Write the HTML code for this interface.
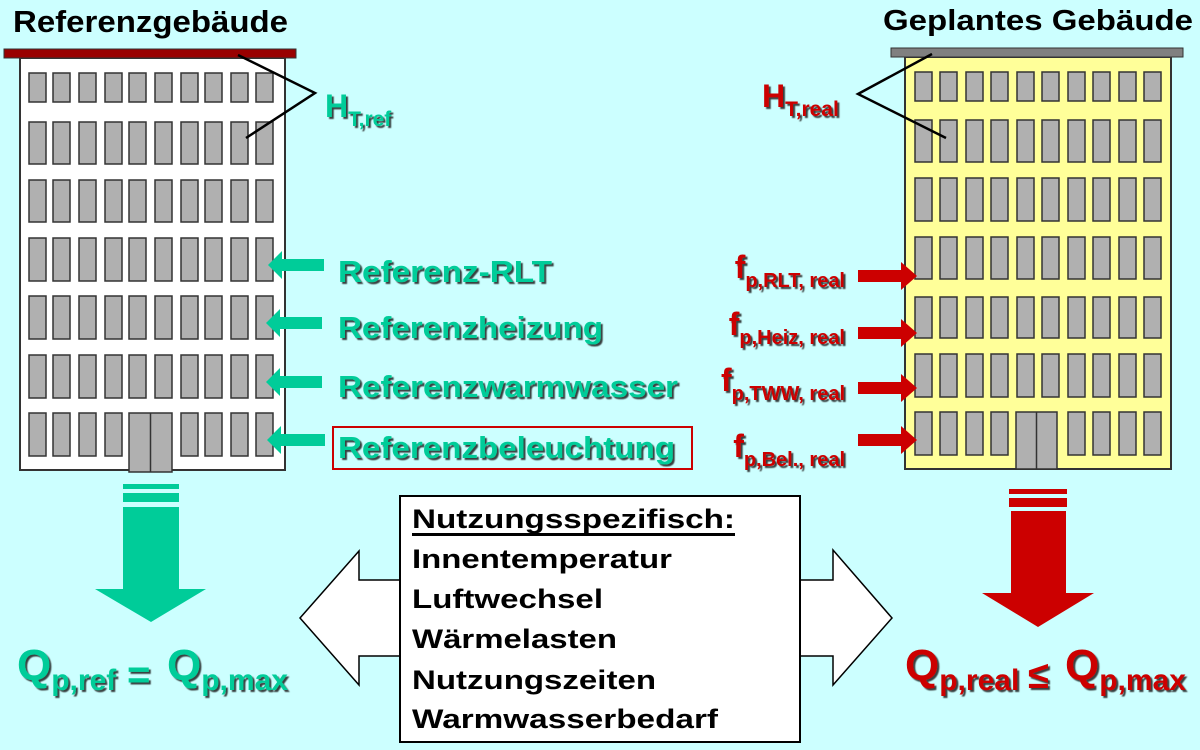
<!DOCTYPE html>
<html><head><meta charset="utf-8"><style>
html,body{margin:0;padding:0;background:#ccffff;}
svg{display:block;font-family:"Liberation Sans",Arial,sans-serif;font-weight:bold;}
</style></head><body>
<svg width="1200" height="750" viewBox="0 0 1200 750" xmlns="http://www.w3.org/2000/svg">
<defs>
<filter id="sh" x="-5%" y="-20%" width="110%" height="140%"><feDropShadow dx="2" dy="2" stdDeviation="0.4" flood-color="#222" flood-opacity="0.85"/></filter>
</defs>
<rect width="1200" height="750" fill="#ccffff"/>

<!-- Titles -->
<text x="13" y="32" font-size="31" fill="#000" textLength="275" lengthAdjust="spacingAndGlyphs">Referenzgebäude</text>
<text x="883" y="30" font-size="29" fill="#000" textLength="310" lengthAdjust="spacingAndGlyphs">Geplantes Gebäude</text>

<!-- Left building -->
<rect x="20" y="58" width="265" height="412" fill="#fff" stroke="#333" stroke-width="2"/>
<rect x="4" y="49" width="292" height="9" fill="#990000" stroke="#333" stroke-width="1"/>

<!-- Right building -->
<rect x="905" y="57" width="266" height="412" fill="#ffff99" stroke="#333" stroke-width="2"/>
<rect x="891" y="48" width="292" height="9" fill="#808080" stroke="#333" stroke-width="1"/>

<g id="lw" fill="#b0b0b0" stroke="#333" stroke-width="1.5"></g>
<g id="rw" fill="#b0b0b0" stroke="#333" stroke-width="1.5"></g>

<rect x="129" y="413" width="43" height="59" fill="#b0b0b0" stroke="#333" stroke-width="1.5"/>
<line x1="150.5" y1="413" x2="150.5" y2="472" stroke="#333" stroke-width="1.5"/>
<rect x="1016" y="412" width="41" height="57" fill="#b0b0b0" stroke="#333" stroke-width="1.5"/>
<line x1="1036.5" y1="412" x2="1036.5" y2="469" stroke="#333" stroke-width="1.5"/>

<!-- H lines -->
<polyline points="238,55 315,93 246,138" fill="none" stroke="#000" stroke-width="2.5"/>
<polyline points="932,54 858,94 946,138" fill="none" stroke="#000" stroke-width="2.5"/>
<g filter="url(#sh)">
<text x="325" y="117" font-size="32" fill="#00cc99">H<tspan font-size="21" dy="9">T,ref</tspan></text>
<text x="762" y="107" font-size="32" fill="#cc0000">H<tspan font-size="21" dy="9">T,real</tspan></text>
</g>

<!-- Green arrows -->
<g fill="#00cc99">
<polygon points="268,265 282,251 282,259 324,259 324,271 282,271 282,279"/>
<polygon points="266,323 280,309 280,317 322,317 322,329 280,329 280,337"/>
<polygon points="266,382 280,368 280,376 322,376 322,388 280,388 280,396"/>
<polygon points="267,440 281,426 281,434 325,434 325,446 281,446 281,454"/>
</g>
<g filter="url(#sh)" fill="#00cc99" font-size="31">
<text x="338" y="282" textLength="214" lengthAdjust="spacingAndGlyphs">Referenz-RLT</text>
<text x="338" y="338" textLength="265" lengthAdjust="spacingAndGlyphs">Referenzheizung</text>
<text x="338" y="397" textLength="340" lengthAdjust="spacingAndGlyphs">Referenzwarmwasser</text>
<text x="338" y="458" textLength="337" lengthAdjust="spacingAndGlyphs">Referenzbeleuchtung</text>
</g>
<rect x="333" y="427" width="359" height="42" fill="none" stroke="#cc0000" stroke-width="2"/>

<!-- Red arrows -->
<g fill="#cc0000">
<polygon points="917,276 901,262 901,270 858,270 858,282 901,282 901,290"/>
<polygon points="917,333 901,319 901,327 858,327 858,339 901,339 901,347"/>
<polygon points="917,388 901,374 901,382 858,382 858,394 901,394 901,402"/>
<polygon points="917,440 901,426 901,434 858,434 858,446 901,446 901,454"/>
</g>
<g filter="url(#sh)" fill="#cc0000" font-size="32" text-anchor="end">
<text x="845" y="278">f<tspan font-size="20" dy="9">p,RLT, real</tspan></text>
<text x="845" y="335">f<tspan font-size="20" dy="9">p,Heiz, real</tspan></text>
<text x="845" y="391">f<tspan font-size="20" dy="9">p,TWW, real</tspan></text>
<text x="845" y="457">f<tspan font-size="20" dy="9">p,Bel., real</tspan></text>
</g>

<!-- Down arrows -->
<g fill="#00cc99">
<rect x="123" y="484" width="56" height="5"/>
<rect x="123" y="493" width="56" height="9"/>
<polygon points="123,507 179,507 179,589 206,589 151,622 95,589 123,589"/>
</g>
<g fill="#cc0000">
<rect x="1009" y="489" width="58" height="5"/>
<rect x="1009" y="498" width="58" height="9"/>
<polygon points="1011,511 1066,511 1066,593 1094,593 1038,627 982,593 1011,593"/>
</g>

<!-- Q formulas -->
<g filter="url(#sh)" fill="#00cc99" font-size="44">
<text x="17" y="680">Q<tspan font-size="30" dy="10">p,ref</tspan></text>
<text x="127" y="688" font-size="40">=</text>
<text x="167" y="680">Q<tspan font-size="30" dy="10">p,max</tspan></text>
</g>
<g filter="url(#sh)" fill="#cc0000" font-size="44">
<text x="905" y="680">Q<tspan font-size="30" dy="10">p,real</tspan></text>
<text x="1028" y="688" font-size="38">≤</text>
<text x="1065" y="680">Q<tspan font-size="30" dy="10">p,max</tspan></text>
</g>

<!-- Double arrow -->
<polygon points="300,618 359,551 359,580 833,580 833,550 892,618 833,685 833,656 359,656 359,685" fill="#fff" stroke="#000" stroke-width="1.5"/>
<rect x="400" y="496" width="400" height="246" fill="#fff" stroke="#000" stroke-width="2"/>
<g fill="#000" font-size="27">
<text x="412" y="528" textLength="323" lengthAdjust="spacingAndGlyphs">Nutzungsspezifisch:</text>
<rect x="412" y="533" width="323" height="3"/>
<text x="412" y="568" textLength="260" lengthAdjust="spacingAndGlyphs">Innentemperatur</text>
<text x="412" y="608" textLength="191" lengthAdjust="spacingAndGlyphs">Luftwechsel</text>
<text x="412" y="648" textLength="205" lengthAdjust="spacingAndGlyphs">Wärmelasten</text>
<text x="412" y="689" textLength="244" lengthAdjust="spacingAndGlyphs">Nutzungszeiten</text>
<text x="412" y="728" textLength="306" lengthAdjust="spacingAndGlyphs">Warmwasserbedarf</text>
</g>
</svg>
<script>
(function(){
var ns="http://www.w3.org/2000/svg";
function add(g,x,y,w,h){var r=document.createElementNS(ns,"rect");r.setAttribute("x",x);r.setAttribute("y",y);r.setAttribute("width",w);r.setAttribute("height",h);g.appendChild(r);}
var lw=document.getElementById("lw"),rw=document.getElementById("rw");
var lc=[29,53,79,105,129,155,181,205,231,256];
var lr=[[73,29],[122,42],[180,42],[238,43],[296,43],[355,43],[413,43]];
lr.forEach(function(r,i){lc.forEach(function(c){if(i==6&&(c==129||c==155))return;add(lw,c,r[0],17,r[1]);});});
var rc=[915,940,966,991,1017,1042,1068,1093,1119,1144];
var rr=[[72,29],[120,42],[178,43],[237,42],[297,41],[354,43],[412,43]];
rr.forEach(function(r,i){rc.forEach(function(c){if(i==6&&(c==1017||c==1042))return;add(rw,c,r[0],17,r[1]);});});
})();
</script>
</body></html>
